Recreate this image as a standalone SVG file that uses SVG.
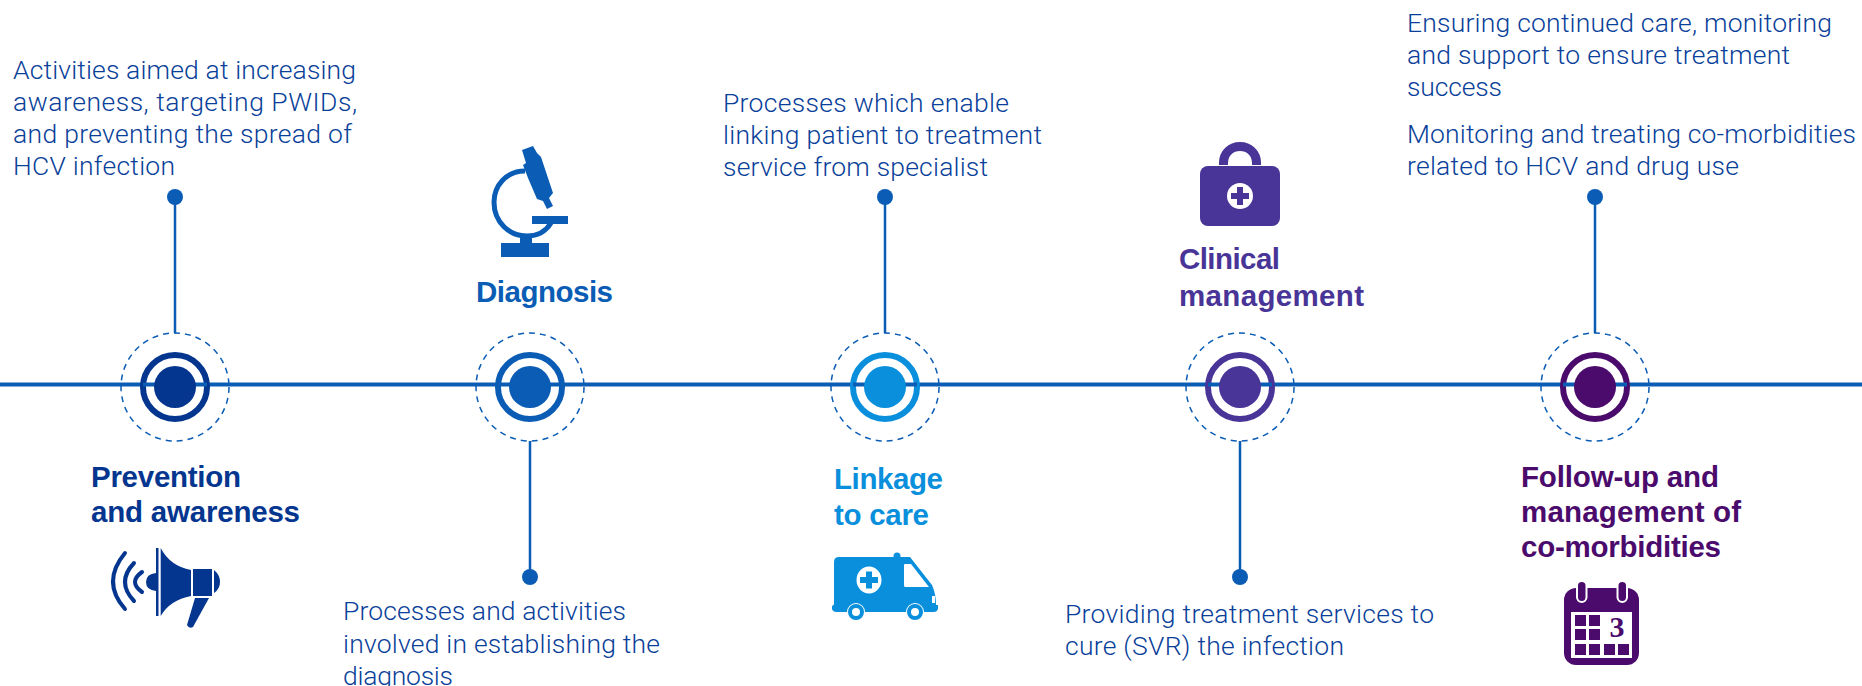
<svg xmlns="http://www.w3.org/2000/svg" width="1862" height="686" viewBox="0 0 1862 686">
<style>
text{font-family:"Liberation Sans",Arial,sans-serif}
.d{font-family:Roboto,"Liberation Sans",sans-serif;font-weight:300;font-size:26.500px;fill:#0a3f9a}
.h{font-size:29.500px;font-weight:700}
.line{stroke:#0a5cb4;fill:none}
.dash{fill:#fff;stroke:#0a5cb4;stroke-width:1.500;stroke-dasharray:6 5}
.ring{fill:#fff;stroke-width:6}
</style>
<rect width="1862" height="686" fill="#fff"/>
<g id="connectors">
<path class="line" stroke-width="4" d="M0 384.500H1862"/>
<path class="line" stroke-width="2.500" d="M175 198V335M530 438V577M885 198V335M1240 438V577M1595 198V335"/>
<g fill="#0a5cb4"><circle cx="175" cy="197" r="8"/><circle cx="530" cy="577" r="8"/><circle cx="885" cy="197" r="8"/><circle cx="1240" cy="577" r="8"/><circle cx="1595" cy="197" r="8"/></g>
</g>
<g id="node-prevention">
<circle class="dash" cx="175" cy="387" r="54"/><path class="line" stroke-width="4" d="M121 384.500H229"/>
<circle class="ring" cx="175" cy="387" r="32" stroke="#04368f"/><path class="line" stroke-width="4" d="M143 384.500H207"/><circle cx="175" cy="387" r="21" fill="#04368f"/>
<text class="h" x="91" y="487" fill="#04368f" textLength="150">Prevention</text><text class="h" x="91" y="522" fill="#04368f" textLength="209">and awareness</text>
<g fill="#04368f"><rect x="156" y="548" width="2.500" height="68"/><path d="M160.700 548Q170 566 191 570V596Q170 600 160.700 616Z"/><rect x="193" y="569" width="19" height="27"/><path d="M214 570Q220 575 220 582Q220 589 214 593Z"/><path d="M156 573Q146 574 146 582Q146 590 156 591Z"/><path d="M195 598H209L193 627Q189 629 187 625Z"/></g>
<g fill="none" stroke="#04368f" stroke-width="4" stroke-linecap="round"><path d="M125 553Q101 582 125 609"/><path d="M134 563Q116 582 134 601"/><path d="M142 572Q128 582 142 592"/></g>
<text class="d" x="13" y="79" textLength="343">Activities aimed at increasing</text><text class="d" x="13" y="111" textLength="344">awareness, targeting PWIDs,</text><text class="d" x="13" y="143" textLength="339">and preventing the spread of</text><text class="d" x="13" y="175" textLength="162">HCV infection</text>
</g>
<g id="node-diagnosis">
<circle class="dash" cx="530" cy="387" r="54"/><path class="line" stroke-width="4" d="M476 384.500H584"/>
<circle class="ring" cx="530" cy="387" r="32" stroke="#0a5cb4"/><path class="line" stroke-width="4" d="M498 384.500H562"/><circle cx="530" cy="387" r="21" fill="#0a5cb4"/>
<text class="h" x="476" y="302" fill="#0a5cb4" textLength="137">Diagnosis</text>
<g fill="#0a5cb4"><path d="M522 150L533 146L537 153L541 157L553 193L549 198L553 206L547 209L543 201L537 199L528 178L523 165L526 163Z"/><rect x="532" y="216" width="36" height="8"/><rect x="501" y="243" width="48" height="14"/><rect x="520" y="235" width="12" height="9"/></g>
<path d="M525 171C506 171 494 186 494 202C494 222 509 236 527 236C538 236 546 231 551 223" fill="none" stroke="#0a5cb4" stroke-width="5"/>
<text class="d" x="343" y="620" textLength="283">Processes and activities</text><text class="d" x="343" y="653" textLength="317">involved in establishing the</text><text class="d" x="343" y="685" textLength="110">diagnosis</text>
</g>
<g id="node-linkage">
<circle class="dash" cx="885" cy="387" r="54"/><path class="line" stroke-width="4" d="M831 384.500H939"/>
<circle class="ring" cx="885" cy="387" r="32" stroke="#0a8fdc"/><path class="line" stroke-width="4" d="M853 384.500H917"/><circle cx="885" cy="387" r="21" fill="#0a8fdc"/>
<text class="h" x="834" y="489" fill="#0a8fdc" textLength="109">Linkage</text><text class="h" x="834" y="525" fill="#0a8fdc" textLength="95">to care</text>
<g fill="#0a8fdc"><circle cx="897" cy="556" r="3.500"/><path d="M839 557H910L932 585Q936 594 936 605H938Q939 612 934 612H837Q831 612 832 606Q834 605 834 604V562Q834 557 839 557Z"/></g>
<path d="M905 564H911L929 587H905Q904 587 904 585V565Q904 564 905 564Z" fill="#fff"/><rect x="932" y="596" width="3" height="7" fill="#fff"/>
<ellipse cx="869" cy="580" rx="12.500" ry="13.500" fill="#fff"/><path d="M866 571.500H872V577H878V583H872V588.500H866V583H860V577H866Z" fill="#0a8fdc"/>
<g fill="#fff"><circle cx="856" cy="612" r="9"/><circle cx="915" cy="612" r="9"/></g>
<g fill="#fff" stroke="#0a8fdc" stroke-width="4"><circle cx="856" cy="612" r="6"/><circle cx="915" cy="612" r="6"/></g>
<text class="d" x="723" y="112" textLength="286">Processes which enable</text><text class="d" x="723" y="144" textLength="319">linking patient to treatment</text><text class="d" x="723" y="176" textLength="265">service from specialist</text>
</g>
<g id="node-clinical">
<circle class="dash" cx="1240" cy="387" r="54"/><path class="line" stroke-width="4" d="M1186 384.500H1294"/>
<circle class="ring" cx="1240" cy="387" r="32" stroke="#483597"/><path class="line" stroke-width="4" d="M1208 384.500H1272"/><circle cx="1240" cy="387" r="21" fill="#483597"/>
<text class="h" x="1179" y="269" fill="#483597" textLength="101">Clinical</text><text class="h" x="1179" y="306" fill="#483597" textLength="185">management</text>
<path d="M1223.500 165V163C1223.500 153 1231 146.500 1240 146.500C1249 146.500 1256.500 153 1256.500 163V165" fill="none" stroke="#483597" stroke-width="9"/>
<rect x="1200" y="166" width="80" height="60" rx="8" fill="#483597"/><circle cx="1240" cy="196" r="13" fill="#fff"/><path d="M1237 187H1243V193H1249V199H1243V205H1237V199H1231V193H1237Z" fill="#483597"/>
<text class="d" x="1065" y="623" textLength="369">Providing treatment services to</text><text class="d" x="1065" y="655" textLength="279">cure (SVR) the infection</text>
</g>
<g id="node-followup">
<circle class="dash" cx="1595" cy="387" r="54"/><path class="line" stroke-width="4" d="M1541 384.500H1649"/>
<circle class="ring" cx="1595" cy="387" r="32" stroke="#4b0b6c"/><path class="line" stroke-width="4" d="M1563 384.500H1627"/><circle cx="1595" cy="387" r="21" fill="#4b0b6c"/>
<text class="h" x="1521" y="487" fill="#4b0b6c" textLength="198">Follow-up and</text><text class="h" x="1521" y="522" fill="#4b0b6c" textLength="220">management of</text><text class="h" x="1521" y="557" fill="#4b0b6c" textLength="200">co-morbidities</text>
<rect x="1564" y="588" width="75" height="77" rx="12" fill="#4b0b6c"/>
<g fill="#4b0b6c" stroke="#fff" stroke-width="2"><rect x="1577" y="581" width="9.500" height="21" rx="4.700"/><rect x="1617.500" y="581" width="9.500" height="21" rx="4.700"/></g>
<rect x="1571" y="612" width="61" height="46" fill="#fff"/>
<g fill="#4b0b6c"><rect x="1575" y="615" width="11" height="11"/><rect x="1589" y="615" width="11" height="11"/><rect x="1575" y="629" width="11" height="11"/><rect x="1589" y="629" width="11" height="11"/><rect x="1575" y="644" width="11" height="11"/><rect x="1589" y="644" width="11" height="11"/><rect x="1604" y="644" width="11" height="11"/><rect x="1618" y="644" width="11" height="11"/></g>
<text x="1617" y="637" text-anchor="middle" style="font-family:'Liberation Serif',serif;font-size:30px;font-weight:700" fill="#4b0b6c">3</text>
<text class="d" x="1407" y="32" textLength="425">Ensuring continued care, monitoring</text><text class="d" x="1407" y="64" textLength="383">and support to ensure treatment</text><text class="d" x="1407" y="96" textLength="95">success</text><text class="d" x="1407" y="143" textLength="449">Monitoring and treating co-morbidities</text><text class="d" x="1407" y="175" textLength="332">related to HCV and drug use</text>
</g>
</svg>
